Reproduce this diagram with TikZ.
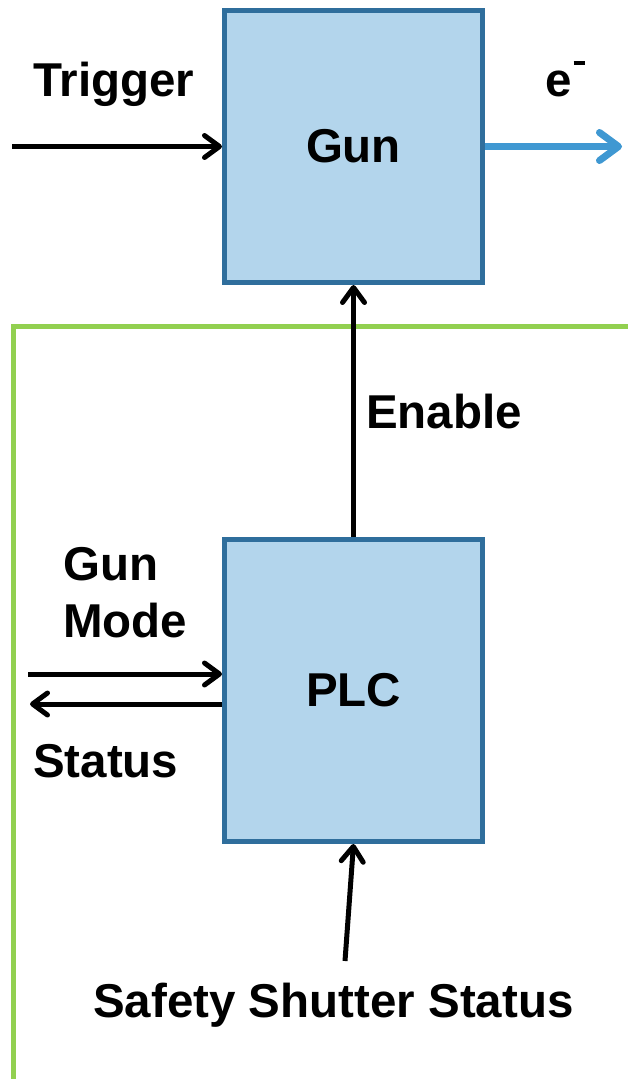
\documentclass[tikz,border=0pt]{standalone}
\usepackage{fontspec}
\setmainfont{Liberation Sans}
\usetikzlibrary{arrows.meta}
\definecolor{boxfill}{HTML}{B3D5EC}
\definecolor{boxline}{HTML}{2F6E9C}
\definecolor{beamblue}{HTML}{3F98D2}
\definecolor{safegreen}{HTML}{92D050}
\begin{document}
\begin{tikzpicture}[x=1pt,y=-1pt,
  box/.style={draw=boxline, fill=boxfill, line width=5pt, minimum width=258pt, inner sep=0pt,
    font=\fontsize{47.5}{57}\selectfont\bfseries},
  lbl/.style={inner sep=0pt, anchor=base west, font=\fontsize{47.5}{57}\selectfont\bfseries},
  sig/.style={line width=5pt, -{Straight Barb[length=15pt,width=22pt,round]}},
  beam/.style={draw=beamblue, line width=7pt, -{Straight Barb[length=19pt,width=28pt,round]}},
  zone/.style={draw=safegreen, line width=5pt}]
\useasboundingbox (0,0) rectangle (627,1079);
% safety zone boundary
\draw[zone] (629,326) -- (13,326) -- (13,1082);
% boxes
\node[box, minimum height=272pt] (gun) at (353.5,146.5) {Gun};
\node[box, minimum height=302pt] (plc) at (353.5,690.5) {PLC};
% free ends
\coordinate (trigin) at (12,146.5);
\coordinate (eout) at (622,146.5);
\coordinate (modein) at (28,674);
\coordinate (statout) at (30,704);
\coordinate (shutin) at (345,961);
% connectors
\draw[sig] (trigin) -- (gun.west);
\draw[beam] (gun.east) -- (eout);
\draw[sig] (plc.north) -- (gun.south);
\draw[sig] (modein) -- (modein -| plc.west);
\draw[sig] (statout -| plc.west) -- (statout);
\draw[sig] (shutin) -- (plc.south);
% labels
\node[lbl] (ltrig) at (33,96) {Trigger};
\node[lbl] (le) at (545,96) {e\kern2pt\raisebox{31pt}{\rule{11pt}{4pt}}};
\node[lbl] (lenable) at (366,428) {Enable};
\node[lbl] (lgun) at (63,580) {Gun};
\node[lbl] (lmode) at (63,637) {Mode};
\node[lbl] (lstatus) at (33,777) {Status};
\node[lbl] (lshut) at (93,1017) {Safety Shutter Status};
\end{tikzpicture}
\end{document}
